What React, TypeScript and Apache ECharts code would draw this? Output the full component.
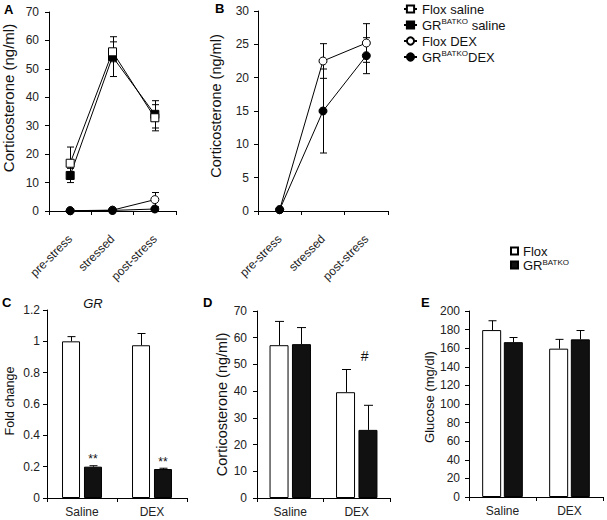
import React, { useEffect, useRef } from 'react';
import * as echarts from 'echarts';

const FONT = '"Liberation Sans", Arial, sans-serif';

// Categories
const timeCats = ['pre-stress', 'stressed', 'post-stress'];
const treatCats = ['Saline', 'DEX'];

// Panel A (ng/ml)
const aFloxSaline = [16.8, 56, 32.8];
const aFloxSalineErr = [5.7, 3.5, 4.6];
const aGrSaline = [12.5, 54.3, 34];
const aGrSalineErr = [2.5, 7, 4.8];
const aFloxDex = [0.1, 0.3, 4];
const aFloxDexErr = [0, 0, 2.5];
const aGrDex = [0.1, 0.2, 0.7];
const aGrDexErr = [0, 0, 0];

// Panel B (ng/ml)
const bFloxDex = [0.2, 22.5, 25.2];
const bFloxDexErr = [0, 2.6, 2.9];
const bGrDex = [0.2, 15, 23.3];
const bGrDexErr = [0, 6.3, 2.7];

// Panel C (fold change)
const cFlox = [1.0, 0.975];
const cFloxErr = [0.03, 0.075];
const cGr = [0.2, 0.185];
const cGrErr = [0.006, 0.005];
const cGrNote = ['**', '**'];
const cGrNoteAt = [0.267, 0.247];

// Panel D (ng/ml)
const dFlox = [57.2, 39.6];
const dFloxErr = [8.9, 8.5];
const dGr = [57.6, 25.5];
const dGrErr = [6.2, 9.2];
const dGrNote = ['', '#'];
const dGrNoteAt = [0, 53.7];

// Panel E (mg/dl)
const eFlox = [179.5, 159.5];
const eFloxErr = [10, 10];
const eGr = [166.5, 169.5];
const eGrErr = [5, 9.5];

// Legends
const topLegend = ['Flox saline', 'GRBATKO saline', 'Flox DEX', 'GRBATKODEX'];
const bottomLegend = ['Flox', 'GRBATKO'];

const lineErr = (xi: number, yi: number, values: number[], errs: number[]) => ({
  type: 'custom',
  xAxisIndex: xi,
  yAxisIndex: yi,
  z: 2,
  silent: true,
  encode: { x: 0, y: 1 },
  data: values.map((v, i) => [i, v, errs[i]]),
  renderItem: (_p: any, api: any) => {
    const i = api.value(0);
    const v = api.value(1);
    const e = api.value(2);
    if (!e) return { type: 'group', children: [] };
    const hi = api.coord([i, v + e]);
    const lo = api.coord([i, v - e]);
    const x = Math.round(hi[0]) + 0.5;
    const st = { stroke: '#000', lineWidth: 1 };
    return {
      type: 'group',
      children: [
        { type: 'line', shape: { x1: x, y1: hi[1], x2: x, y2: lo[1] }, style: st },
        { type: 'line', shape: { x1: x - 3.5, y1: hi[1], x2: x + 3.5, y2: hi[1] }, style: st },
        { type: 'line', shape: { x1: x - 3.5, y1: lo[1], x2: x + 3.5, y2: lo[1] }, style: st },
      ],
    };
  },
});

const barErr = (xi: number, yi: number, values: number[], errs: number[], offset: number, cap: number) => ({
  type: 'custom',
  xAxisIndex: xi,
  yAxisIndex: yi,
  z: 5,
  silent: true,
  encode: { x: 0, y: 1 },
  data: values.map((v, i) => [i, v, errs[i]]),
  renderItem: (_p: any, api: any) => {
    const i = api.value(0);
    const v = api.value(1);
    const e = api.value(2);
    const base = api.coord([i, v]);
    const top = api.coord([i, v + e]);
    const x = Math.round(base[0] + offset) + 0.5;
    const st = { stroke: '#000', lineWidth: 1 };
    return {
      type: 'group',
      children: [
        { type: 'line', shape: { x1: x, y1: base[1], x2: x, y2: top[1] }, style: st },
        { type: 'line', shape: { x1: x - cap, y1: top[1], x2: x + cap, y2: top[1] }, style: st },
      ],
    };
  },
});

const notes = (xi: number, yi: number, texts: string[], at: number[], offset: number, size: number, dy: number) => ({
  type: 'custom',
  xAxisIndex: xi,
  yAxisIndex: yi,
  z: 6,
  silent: true,
  encode: { x: 0, y: 1 },
  data: texts.map((_t, i) => [i, at[i]]),
  renderItem: (_p: any, api: any) => {
    const i = api.value(0);
    const t = texts[i];
    if (!t) return { type: 'group', children: [] };
    const p = api.coord([i, api.value(1)]);
    return {
      type: 'text',
      x: p[0] + offset,
      y: p[1] + dy,
      style: {
        text: t,
        fill: '#111',
        font: `${size}px ${FONT}`,
        align: 'center',
        verticalAlign: 'middle',
      },
    };
  },
});

const yAxis = (gi: number, max: number, interval: number, name: string, nameGap: number, nameSize: number, namePad: number, labelMargin: number) => ({
  type: 'value',
  gridIndex: gi,
  min: 0,
  max,
  interval,
  name,
  nameLocation: 'middle',
  nameGap,
  nameRotate: 90,
  nameTextStyle: { fontSize: nameSize, color: '#111', fontFamily: FONT, padding: [0, 0, 0, namePad] },
  axisLine: { show: true, lineStyle: { color: '#000', width: 1 } },
  axisTick: { show: true, length: 4, lineStyle: { color: '#000', width: 1 } },
  axisLabel: { fontSize: 12, color: '#222', margin: labelMargin, fontFamily: FONT },
  splitLine: { show: false },
});

const xAxis = (gi: number, data: string[], rotate: number, margin: number) => ({
  type: 'category',
  gridIndex: gi,
  data,
  axisLine: { show: true, onZero: false, lineStyle: { color: '#000', width: 1 } },
  axisTick: { show: true, length: 4, lineStyle: { color: '#000', width: 1 } },
  axisLabel: { fontSize: 12, color: '#222', rotate, margin, fontFamily: FONT, interval: 0 },
  splitLine: { show: false },
});

const lineSeries = (name: string, xi: number, yi: number, data: number[], symbol: string, filled: boolean) => ({
  type: 'line',
  name,
  xAxisIndex: xi,
  yAxisIndex: yi,
  data,
  symbol,
  symbolSize: 8,
  showAllSymbol: true,
  z: 3,
  silent: true,
  itemStyle: { color: filled ? '#000' : '#fff', borderColor: '#000', borderWidth: 1 },
  lineStyle: { color: '#000', width: 1 },
});

const barSeries = (name: string, xi: number, yi: number, data: number[], filled: boolean, barWidth: number, barGap: string) => ({
  type: 'bar',
  name,
  xAxisIndex: xi,
  yAxisIndex: yi,
  data,
  barWidth,
  barGap,
  silent: true,
  itemStyle: { color: filled ? '#111' : '#fff', borderColor: '#000', borderWidth: 1 },
});

const legendFmt = (name: string) => {
  if (name.startsWith('GRBATKO')) {
    const rest = name.slice(7);
    return `{n|GR}{s|BATKO}` + (rest ? `{n|${rest}}` : '');
  }
  return `{n|${name}}`;
};

const legendItem = (name: string, left: number, top: number, lh: number, iw: number, ih: number, icon?: string) => ({
  orient: 'vertical',
  left,
  top,
  padding: 0,
  itemWidth: iw,
  itemHeight: ih,
  itemGap: 0,
  selectedMode: false,
  ...(icon ? { icon } : {}),
  data: [name],
  formatter: legendFmt,
  textStyle: {
    color: '#111',
    fontFamily: FONT,
    fontSize: 13,
    lineHeight: lh,
    rich: {
      n: { fontSize: 13, lineHeight: lh, fontFamily: FONT, color: '#111' },
      s: { fontSize: 8, lineHeight: 11, verticalAlign: 'top', fontFamily: FONT, color: '#111' },
    },
  },
});

const letter = (t: string, x: number, y: number) => ({
  type: 'text',
  x,
  y,
  style: { text: t, fill: '#000', font: `bold 13px ${FONT}`, verticalAlign: 'middle' },
});

export default function App() {
  const ref = useRef<HTMLDivElement>(null);
  useEffect(() => {
    document.body.style.margin = '0';
    const chart = echarts.init(ref.current!, null, { renderer: 'svg' });
    const option: any = {
      animation: false,
      backgroundColor: '#fff',
      textStyle: { fontFamily: FONT },
      grid: [
        { left: 48, top: 12, width: 128, height: 199 },
        { left: 258, top: 11, width: 130, height: 200 },
        { left: 47, top: 310, width: 140, height: 188 },
        { left: 257, top: 311, width: 133, height: 187 },
        { left: 469, top: 311, width: 134, height: 186 },
      ],
      xAxis: [
        xAxis(0, timeCats, 45, 26),
        xAxis(1, timeCats, 45, 26),
        xAxis(2, treatCats, 0, 8),
        xAxis(3, treatCats, 0, 8),
        xAxis(4, treatCats, 0, 8),
      ],
      yAxis: [
        yAxis(0, 70, 10, 'Corticosterone (ng/ml)', 33, 15, 27, 10),
        yAxis(1, 30, 5, 'Corticosterone (ng/ml)', 35, 14.5, 10, 9),
        yAxis(2, 1.2, 0.2, 'Fold change', 31, 12.5, 6, 7),
        yAxis(3, 70, 10, 'Corticosterone (ng/ml)', 28, 14.5, 0, 10),
        yAxis(4, 200, 20, 'Glucose (mg/dl)', 33, 13, 14, 9),
      ],
      legend: [
        legendItem(topLegend[0], 403, 1, 16, 13, 9),
        legendItem(topLegend[1], 403, 17, 16, 13, 9),
        legendItem(topLegend[2], 403, 33, 16, 13, 9),
        legendItem(topLegend[3], 403, 49, 16, 13, 9),
        legendItem(bottomLegend[0], 510, 244, 14, 7, 7, 'rect'),
        legendItem(bottomLegend[1], 510, 258, 14, 7, 7, 'rect'),
      ],
      graphic: [
        letter('A', 4, 9),
        letter('B', 215, 8),
        letter('C', 2, 302),
        letter('D', 203, 302),
        letter('E', 421, 302),
        {
          type: 'text',
          x: 93,
          y: 303,
          style: { text: 'GR', fill: '#111', font: `italic 13px ${FONT}`, align: 'center', verticalAlign: 'middle' },
        },
      ],
      series: [
        // Panel A
        lineErr(0, 0, aFloxSaline, aFloxSalineErr),
        lineErr(0, 0, aGrSaline, aGrSalineErr),
        lineErr(0, 0, aFloxDex, aFloxDexErr),
        lineErr(0, 0, aGrDex, aGrDexErr),
        lineSeries('GRBATKO saline', 0, 0, aGrSaline, 'rect', true),
        lineSeries('Flox saline', 0, 0, aFloxSaline, 'rect', false),
        lineSeries('Flox DEX', 0, 0, aFloxDex, 'circle', false),
        lineSeries('GRBATKODEX', 0, 0, aGrDex, 'circle', true),
        // Panel B
        lineErr(1, 1, bFloxDex, bFloxDexErr),
        lineErr(1, 1, bGrDex, bGrDexErr),
        lineSeries('Flox DEX', 1, 1, bFloxDex, 'circle', false),
        lineSeries('GRBATKODEX', 1, 1, bGrDex, 'circle', true),
        // Panel C
        barSeries('Flox', 2, 2, cFlox, false, 18, '22%'),
        barSeries('GRBATKO', 2, 2, cGr, true, 18, '22%'),
        barErr(2, 2, cFlox, cFloxErr, -11, 4),
        barErr(2, 2, cGr, cGrErr, 11, 4),
        notes(2, 2, cGrNote, cGrNoteAt, 11, 12, 3),
        // Panel D
        barSeries('Flox', 3, 3, dFlox, false, 19, '18%'),
        barSeries('GRBATKO', 3, 3, dGr, true, 19, '18%'),
        barErr(3, 3, dFlox, dFloxErr, -11.2, 4.5),
        barErr(3, 3, dGr, dGrErr, 11.2, 4.5),
        notes(3, 3, dGrNote, dGrNoteAt, 8, 14, 1),
        // Panel E
        barSeries('Flox', 4, 4, eFlox, false, 19, '14%'),
        barSeries('GRBATKO', 4, 4, eGr, true, 19, '14%'),
        barErr(4, 4, eFlox, eFloxErr, -10.8, 4),
        barErr(4, 4, eGr, eGrErr, 10.8, 4),
      ],
    };
    chart.setOption(option);
    return () => chart.dispose();
  }, []);
  return <div ref={ref} style={{ width: 607, height: 520 }} />;
}
